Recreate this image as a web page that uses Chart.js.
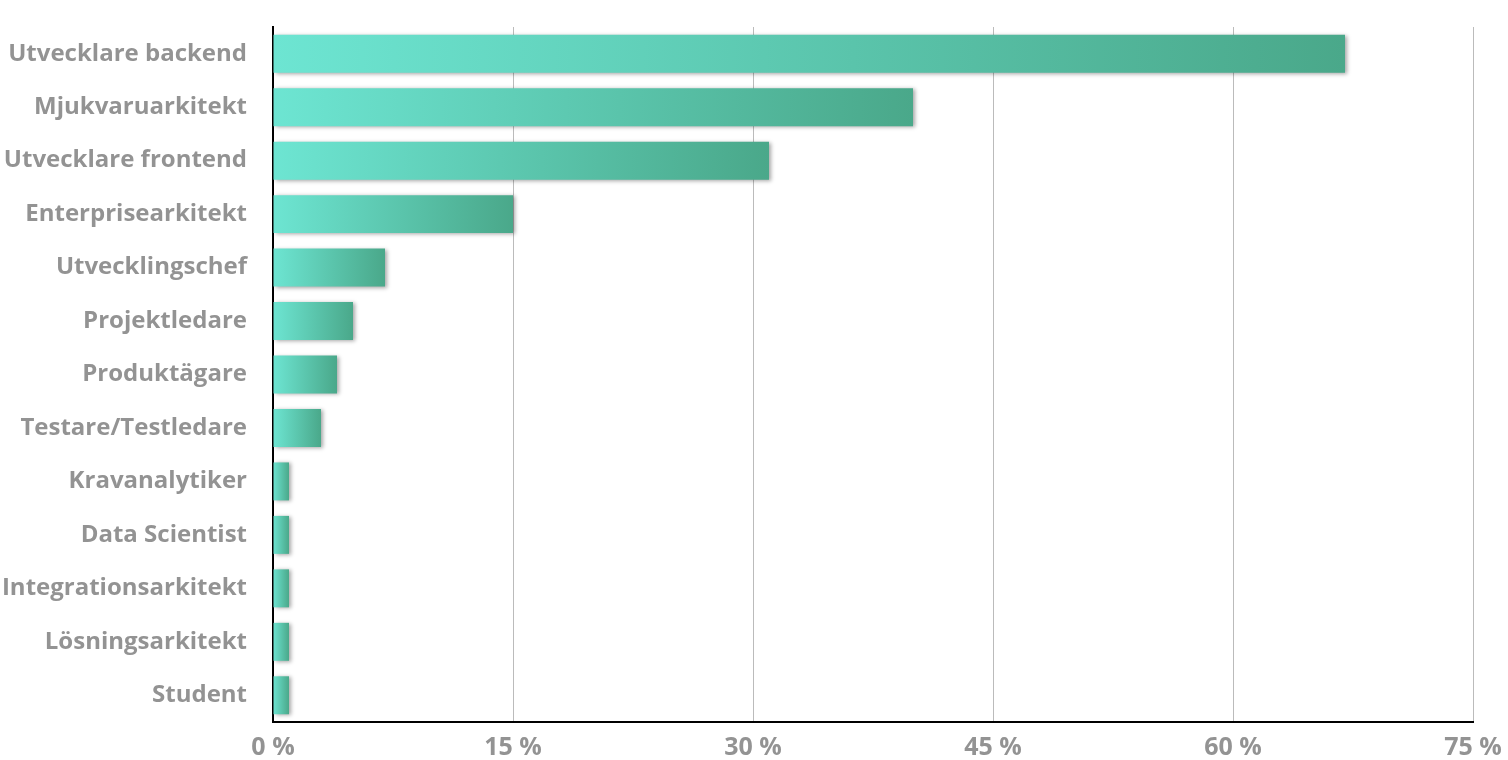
<!DOCTYPE html>
<html>
<head>
<meta charset="utf-8">
<script src="https://cdn.jsdelivr.net/npm/chart.js@4"></script>
<style>
html,body{margin:0;padding:0;background:#fff;}
#wrap{width:1508px;height:760px;}
</style>
</head>
<body>
<div id="wrap"><canvas id="roleChart" width="1508" height="760"></canvas></div>
<script>
// Roller (andel svar i %)

const roles=[
"Utvecklare backend",
"Mjukvaruarkitekt",
"Utvecklare frontend",
"Enterprisearkitekt",
"Utvecklingschef",
"Projektledare",
"Produktägare",
"Testare/Testledare",
"Kravanalytiker",
"Data Scientist",
"Integrationsarkitekt",
"Lösningsarkitekt",
"Student"
];
const shares=[67,40,31,15,7,5,4,3,1,1,1,1,1];
const xTicks=[0,15,30,45,60,75];

const grey="#939393";
const fontFam="'Open Sans', 'DejaVu Sans', sans-serif";

// gradient for each bar, light at 0 -> dark at end
function barGradient(ctx){
let chart=ctx.chart;
let x=chart.scales.x;
if(!x||ctx.parsed==null)return "#5cc6ad";
let x0=x.getPixelForValue(0);
let x1=x.getPixelForValue(ctx.parsed.x);
if(!isFinite(x0)||!isFinite(x1)||x1<=x0)return "#5cc6ad";
let g=chart.ctx.createLinearGradient(x0,0,x1,0);
g.addColorStop(0,"#6de5d2");
g.addColorStop(1,"#4aa88a");
return g;
}

const barShadow={
id:"barShadow",
beforeDatasetsDraw(chart){
let c=chart.ctx;
c.save();
c.shadowColor="rgba(0,0,0,0.35)";
c.shadowBlur=4;
c.shadowOffsetX=2;
c.shadowOffsetY=1;
},
afterDatasetsDraw(chart){
chart.ctx.restore();
}
};

new Chart(
document.getElementById("roleChart"),
{
type:"bar",
data:{
labels:roles,
datasets:[{
data:shares,
backgroundColor:barGradient,
borderWidth:0,
categoryPercentage:1,
barPercentage:0.71
}]
},
plugins:[barShadow],
options:{
indexAxis:"y",
responsive:false,
animation:false,
layout:{padding:{top:27,right:35,left:0,bottom:0}},
plugins:{legend:{display:false},tooltip:{enabled:false}},
scales:{
x:{
min:0,
max:75,
afterBuildTicks(scale){
scale.ticks=xTicks.map(v=>({value:v}));
},
afterFit(scale){
scale.height=38;
scale.paddingLeft=0;
scale.paddingRight=0;
},
grid:{color:"#bbbbbb",lineWidth:1,drawTicks:false},
border:{display:true,color:"#000",width:2},
ticks:{
padding:11,
color:grey,
font:{family:fontFam,size:25,weight:"bold"},
maxRotation:0,
callback:v=>v+" %"
}
},
y:{
afterFit(scale){
scale.width=273;
scale.paddingTop=0;
scale.paddingBottom=0;
},
grid:{drawOnChartArea:false,drawTicks:false},
border:{display:true,color:"#000",width:2},
ticks:{
padding:26,
color:grey,
font:{family:fontFam,size:24,weight:"bold"}
}
}
}
}
}
);
</script>
</body>
</html>
